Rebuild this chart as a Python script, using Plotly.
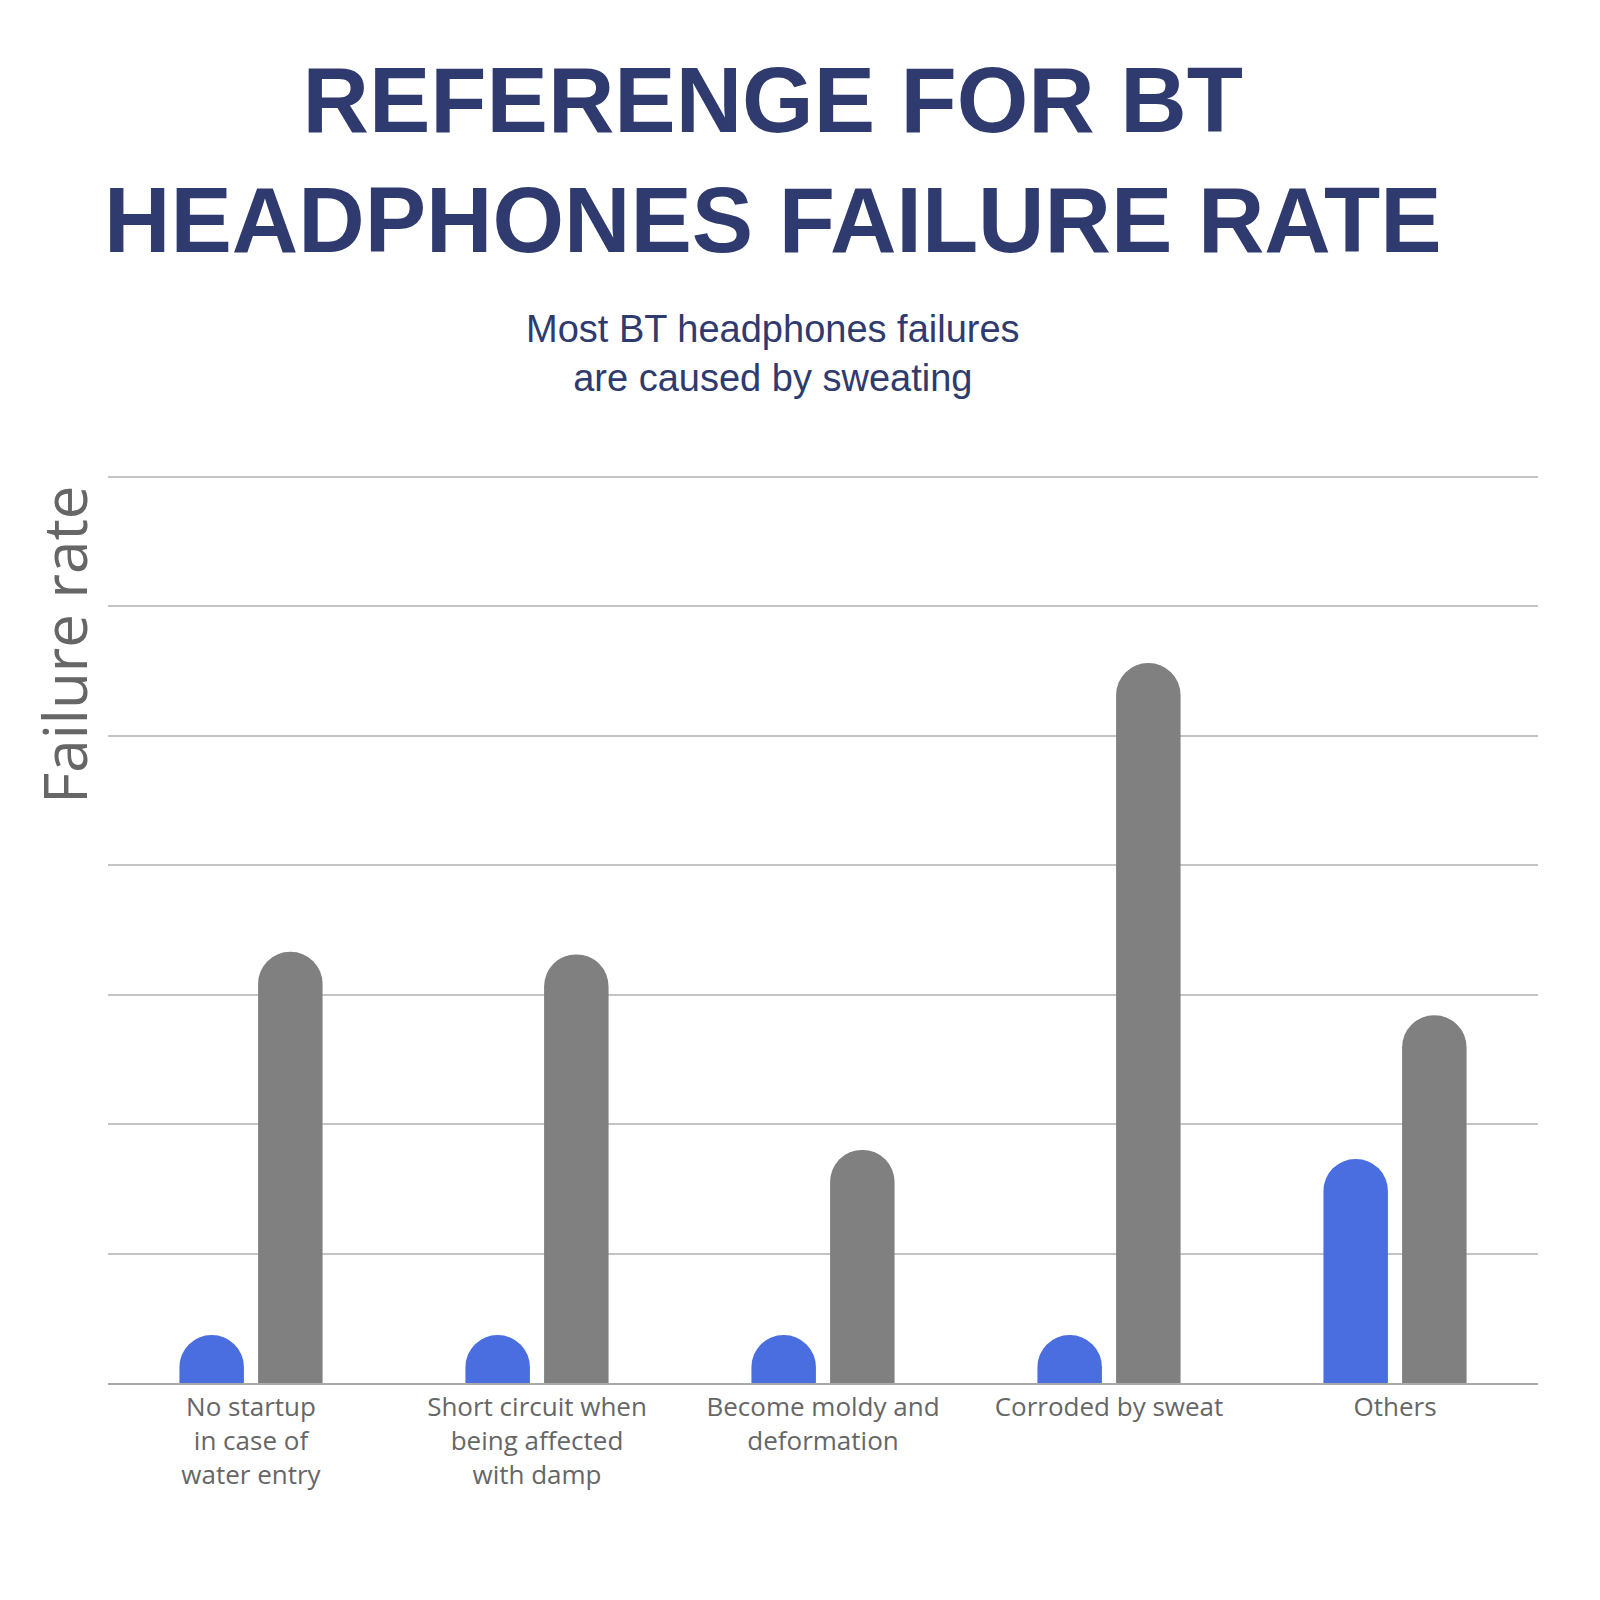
import plotly.graph_objects as go

categories = ["No startup<br>in case of<br>water entry", "Short circuit when<br>being affected<br>with damp",
              "Become moldy and<br>deformation", "Corroded by sweat", "Others"]
blue_vals = [0.37, 0.37, 0.37, 0.37, 1.73]
gray_vals = [3.33, 3.31, 1.80, 5.56, 2.84]

fig = go.Figure()
fig.add_bar(x=categories, y=blue_vals, marker_color="#4a6ee0", marker_line_width=0)
fig.add_bar(x=categories, y=gray_vals, marker_color="#808080", marker_line_width=0)

fig.update_layout(
    width=1600, height=1600, paper_bgcolor="white", plot_bgcolor="white",
    showlegend=False, barmode="group", bargap=0.45, bargroupgap=0.18,
    barcornerradius="50%",
    margin=dict(l=100, r=70, t=466, b=225),
    font=dict(family="Open Sans, DejaVu Sans, sans-serif"),
    xaxis=dict(showgrid=False, tickfont=dict(size=26, color="#666"), ticks="",
               showline=True, linecolor="#aaa", linewidth=2),
    yaxis=dict(range=[0, 7.02], dtick=1, showticklabels=False, gridcolor="#c4c4c4", gridwidth=2,
               zeroline=False),
)
H = 1600 - 466 - 225
base = 1600 - 225
def py(px):
    return (base - px) / H
fig.add_annotation(xref="paper", yref="paper", x=-0.031, y=py(637), textangle=-90,
                   text="Failure rate", showarrow=False, xanchor="center", yanchor="middle",
                   font=dict(size=60, color="#666"))
fig.add_annotation(xref="paper", yref="paper", x=0.465, y=py(152), yanchor="middle",
                   text="<b>REFERENGE FOR BT<br>HEADPHONES FAILURE RATE</b>", showarrow=False,
                   font=dict(family="Liberation Sans, Arial, sans-serif", size=92, color="#2f3a6e"))
fig.add_annotation(xref="paper", yref="paper", x=0.465, y=py(345), yanchor="middle",
                   text="Most BT headphones failures<br>are caused by sweating", showarrow=False,
                   font=dict(family="Liberation Sans, Arial, sans-serif", size=38, color="#2f3a6e"))
fig.write_html("out.html")
